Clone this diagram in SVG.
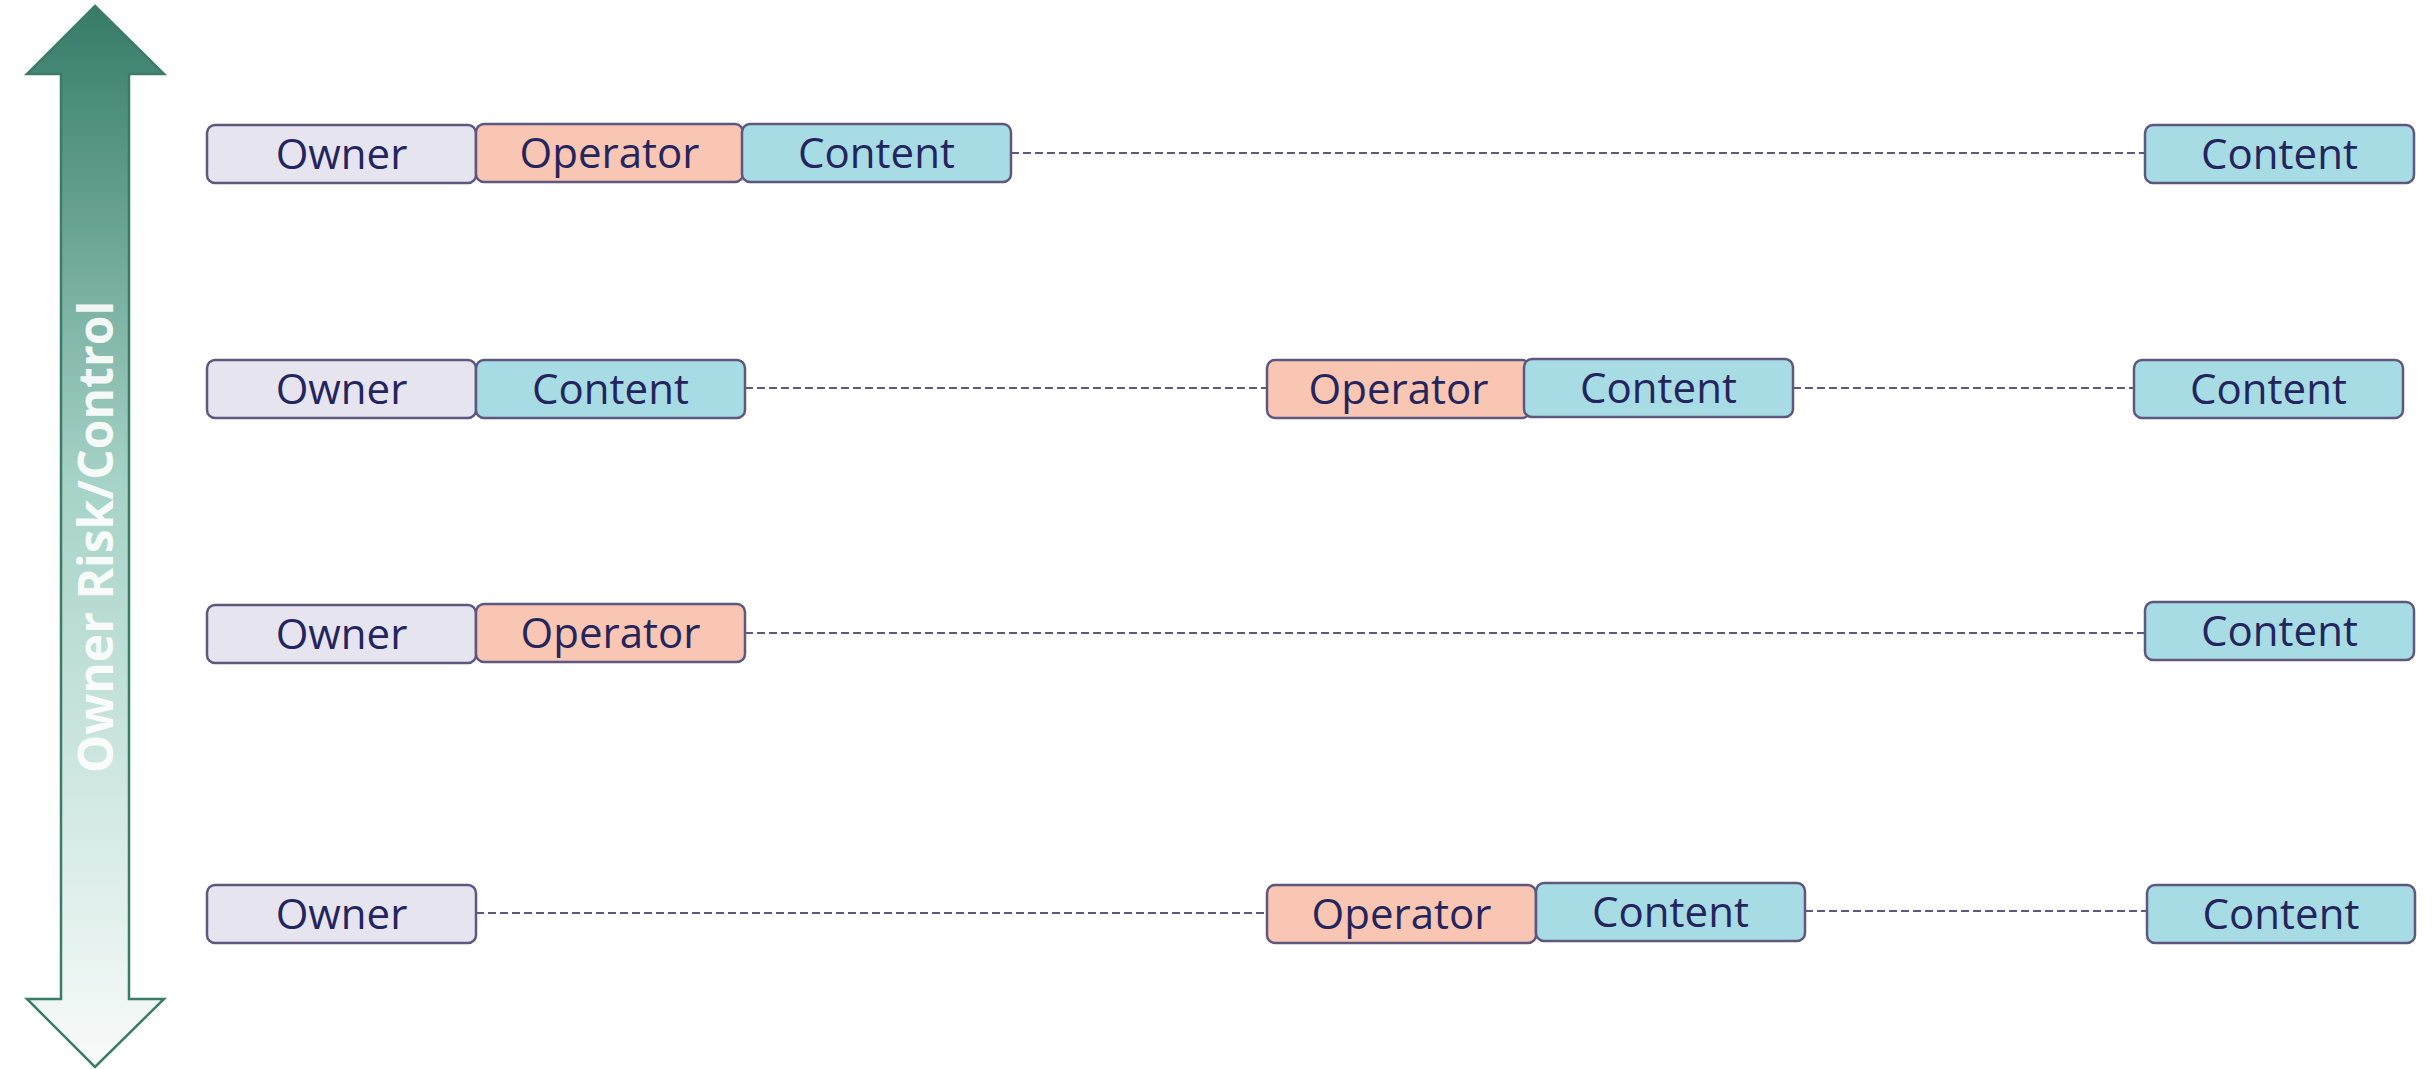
<svg xmlns="http://www.w3.org/2000/svg" width="2432" height="1069" viewBox="0 0 2432 1069">
  <defs>
    <linearGradient id="axisFill" x1="0" y1="0" x2="0" y2="1">
      <stop offset="0" stop-color="#367b68"/>
      <stop offset="0.45" stop-color="#a6d3c7"/>
      <stop offset="1" stop-color="#f8fbfa"/>
    </linearGradient>
  </defs>
  <style>
    .box { stroke: #5e577f; stroke-width: 2.5; }
    .owner { fill: #e6e4ef; }
    .operator { fill: #f9c6b3; }
    .content { fill: #a7dce5; }
    .lbl { font-family: "Open Sans", "Noto Sans", sans-serif; font-size: 42px; fill: #25255d; text-anchor: middle; }
    .link { stroke: #5f5981; stroke-width: 1.8; stroke-dasharray: 8 4; fill: none; }
    .axis-lbl { font-family: "Open Sans", "Noto Sans", sans-serif; font-weight: bold; font-size: 48px; fill: #ffffff; fill-opacity: 0.92; text-anchor: middle; }
  </style>

  <!-- vertical double-headed axis -->
  <g id="axis">
    <polygon points="95,6 164,74 129,74 129,999 164,999 95,1067 27,999 61,999 61,74 27,74" fill="url(#axisFill)" stroke="#3b7c69" stroke-width="2.5" stroke-linejoin="miter"/>
    <text class="axis-lbl" transform="translate(113,537) rotate(-90)">Owner Risk/Control</text>
  </g>

  <!-- dashed connectors -->
  <g id="connectors">
    <line class="link" x1="1011" y1="153" x2="2145" y2="153"/>
    <line class="link" x1="745" y1="388" x2="1267" y2="388"/>
    <line class="link" x1="1793" y1="388" x2="2134" y2="388"/>
    <line class="link" x1="745" y1="633" x2="2145" y2="633"/>
    <line class="link" x1="476" y1="913" x2="1267" y2="913"/>
    <line class="link" x1="1805" y1="911" x2="2147" y2="911"/>
  </g>

  <!-- row 1 -->
  <g id="r1-owner"><rect class="box owner" x="207" y="125" width="269" height="58" rx="8"/><text class="lbl" x="341.5" y="169">Owner</text></g>
  <g id="r1-operator"><rect class="box operator" x="476" y="124" width="267" height="58" rx="8"/><text class="lbl" x="609.5" y="168">Operator</text></g>
  <g id="r1-content"><rect class="box content" x="742" y="124" width="269" height="58" rx="8"/><text class="lbl" x="876.5" y="168">Content</text></g>
  <g id="r1-content-end"><rect class="box content" x="2145" y="125" width="269" height="58" rx="8"/><text class="lbl" x="2279.5" y="169">Content</text></g>

  <!-- row 2 -->
  <g id="r2-owner"><rect class="box owner" x="207" y="360" width="269" height="58" rx="8"/><text class="lbl" x="341.5" y="404">Owner</text></g>
  <g id="r2-content"><rect class="box content" x="476" y="360" width="269" height="58" rx="8"/><text class="lbl" x="610.5" y="404">Content</text></g>
  <g id="r2-operator"><rect class="box operator" x="1267" y="360" width="263" height="58" rx="8"/><text class="lbl" x="1398.5" y="404">Operator</text></g>
  <g id="r2-content-mid"><rect class="box content" x="1524" y="359" width="269" height="58" rx="8"/><text class="lbl" x="1658.5" y="403">Content</text></g>
  <g id="r2-content-end"><rect class="box content" x="2134" y="360" width="269" height="58" rx="8"/><text class="lbl" x="2268.5" y="404">Content</text></g>

  <!-- row 3 -->
  <g id="r3-owner"><rect class="box owner" x="207" y="605" width="269" height="58" rx="8"/><text class="lbl" x="341.5" y="649">Owner</text></g>
  <g id="r3-operator"><rect class="box operator" x="476" y="604" width="269" height="58" rx="8"/><text class="lbl" x="610.5" y="648">Operator</text></g>
  <g id="r3-content-end"><rect class="box content" x="2145" y="602" width="269" height="58" rx="8"/><text class="lbl" x="2279.5" y="646">Content</text></g>

  <!-- row 4 -->
  <g id="r4-owner"><rect class="box owner" x="207" y="885" width="269" height="58" rx="8"/><text class="lbl" x="341.5" y="929">Owner</text></g>
  <g id="r4-operator"><rect class="box operator" x="1267" y="885" width="269" height="58" rx="8"/><text class="lbl" x="1401.5" y="929">Operator</text></g>
  <g id="r4-content"><rect class="box content" x="1536" y="883" width="269" height="58" rx="8"/><text class="lbl" x="1670.5" y="927">Content</text></g>
  <g id="r4-content-end"><rect class="box content" x="2147" y="885" width="268" height="58" rx="8"/><text class="lbl" x="2281" y="929">Content</text></g>
</svg>
